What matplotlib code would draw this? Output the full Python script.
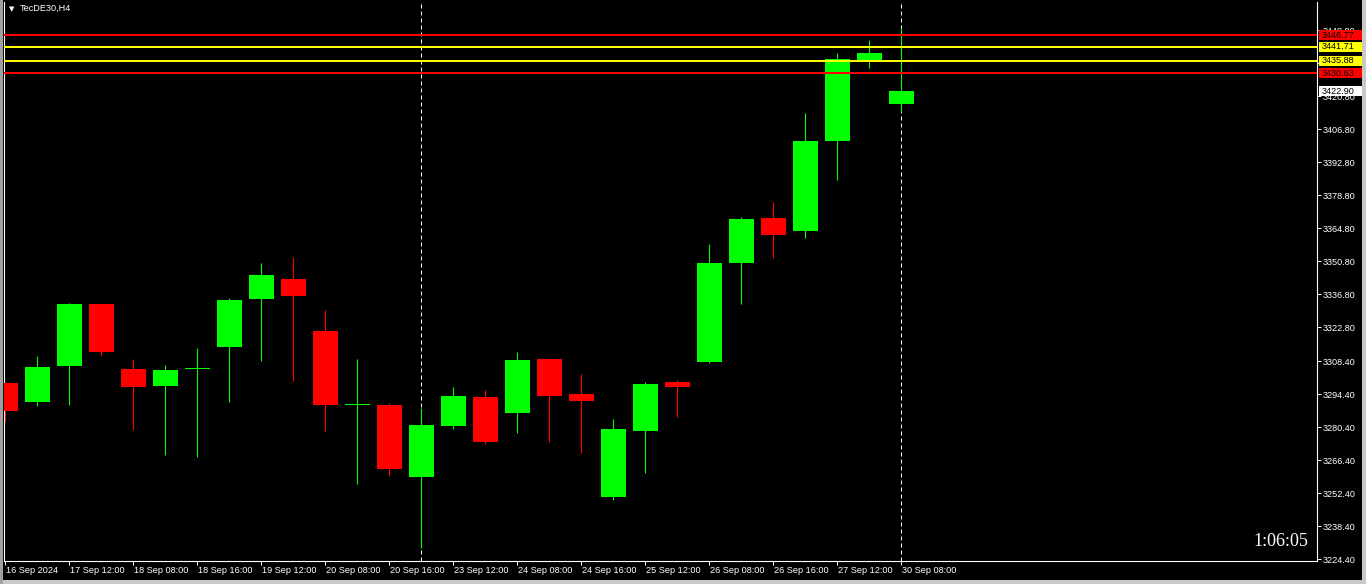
import matplotlib

matplotlib.use("Agg")
import matplotlib.pyplot as plt
import matplotlib.transforms as mtransforms
import numpy as np
from matplotlib.patches import Rectangle

SYMBOL = "TecDE30,H4"
COUNTDOWN = "1:06:05"

# H4 bars, 16 Sep 16:00 .. 30 Sep 08:00
opens = [3299.1, 3291.1, 3306.5, 3332.6, 3305.1, 3298.0, 3304.9, 3314.4, 3334.8, 3343.3,
         3321.2, 3289.8, 3289.8, 3259.3, 3281.0, 3293.2, 3286.5, 3309.3, 3294.4, 3250.9,
         3278.9, 3299.5, 3308.2, 3350.1, 3369.2, 3363.6, 3402.0, 3436.3, 3417.7]
highs = [3299.7, 3310.6, 3332.9, 3332.8, 3309.3, 3306.8, 3314.0, 3335.2, 3350.1, 3352.6,
         3330.1, 3309.3, 3290.5, 3288.4, 3297.4, 3296.1, 3312.3, 3309.6, 3302.9, 3283.8,
         3299.5, 3300.4, 3358.1, 3369.6, 3375.9, 3413.7, 3439.2, 3444.7, 3449.8]
lows = [3282.7, 3289.5, 3289.8, 3311.0, 3279.2, 3268.6, 3267.8, 3291.2, 3308.6, 3300.1,
        3278.9, 3256.4, 3259.8, 3229.0, 3279.6, 3273.3, 3278.0, 3274.2, 3269.5, 3249.6,
        3261.0, 3284.8, 3307.6, 3332.8, 3352.3, 3360.8, 3385.4, 3432.9, 3414.3]
closes = [3287.2, 3305.9, 3332.6, 3312.4, 3297.5, 3304.6, 3305.6, 3334.3, 3345.0, 3336.2,
          3289.8, 3290.4, 3262.6, 3281.3, 3293.6, 3274.2, 3308.9, 3293.7, 3291.6, 3279.6,
          3298.7, 3297.5, 3350.1, 3368.7, 3361.9, 3401.8, 3436.6, 3439.2, 3422.9]

time_tick_bars = [0, 2, 4, 6, 8, 10, 12, 14, 16, 18, 20, 22, 24, 26, 28]
time_tick_labels = ["16 Sep 2024", "17 Sep 12:00", "18 Sep 08:00", "18 Sep 16:00",
                    "19 Sep 12:00", "20 Sep 08:00", "20 Sep 16:00", "23 Sep 12:00",
                    "24 Sep 08:00", "24 Sep 16:00", "25 Sep 12:00", "26 Sep 08:00",
                    "26 Sep 16:00", "27 Sep 12:00", "30 Sep 08:00"]

price_ticks = [3448.80, 3434.80, 3420.80, 3406.80, 3392.80, 3378.80, 3364.80, 3350.80,
               3336.80, 3322.80, 3308.40, 3294.40, 3280.40, 3266.40, 3252.40, 3238.40,
               3224.40]
# 3434.80 sits fully behind the level tags
hidden_ticks = [3434.80]

level_values = [3446.77, 3441.71, 3435.88, 3430.63]
level_colors = ["#ff0000", "#ffff00", "#ffff00", "#ff0000"]
current_price = 3422.90
separator_bars = [13, 28]

BULL = "#00ff00"
BEAR = "#ff0000"
FONT = "Liberation Sans"

W, H = 1366, 584
fig = plt.figure(figsize=(W / 100, H / 100), dpi=100, facecolor="black")
ax = fig.add_axes([4 / W, 23 / H, 1313 / W, 559 / H])
ax.set_facecolor("black")

x = np.arange(len(opens))
o = np.array(opens)
c = np.array(closes)
colors = [BULL if cc >= oo else BEAR for oo, cc in zip(o, c)]

for sb in separator_bars:
    ax.axvline(sb, color="white", lw=0.72, dashes=(4, 3), zorder=1)

ax.vlines(x, lows, highs, colors=colors, lw=0.8, zorder=3)
ax.bar(x, np.abs(c - o), bottom=np.minimum(o, c), width=0.78, color=colors,
       linewidth=0, zorder=4)

for val, col in zip(level_values, level_colors):
    ax.axhline(val, color=col, lw=1.44, zorder=5)

ax.set_xlim(-0.04, 40.99)
ax.set_ylim(3223.6, 3460.8)

ax.spines["top"].set_visible(False)
for side in ("left", "right", "bottom"):
    ax.spines[side].set_color("white")
    ax.spines[side].set_linewidth(0.8)

ax.yaxis.tick_right()
ax.set_yticks(price_ticks)
ax.set_yticklabels(["" if p in hidden_ticks else f"{p:.2f}" for p in price_ticks])
ax.tick_params(axis="y", direction="out", length=2.9, width=0.7, pad=1.4,
               colors="white", labelsize=6.6)

ax.set_xticks(time_tick_bars)
ax.set_xticklabels(time_tick_labels)
ax.tick_params(axis="x", direction="out", length=2.9, width=0.7, pad=1.0,
               colors="white", labelsize=6.6)
shift = mtransforms.ScaledTranslation(1 / 100, 0, fig.dpi_scale_trans)
for lbl in ax.get_xticklabels():
    lbl.set_horizontalalignment("left")
    lbl.set_transform(lbl.get_transform() + shift)
    lbl.set_fontfamily(FONT)
for lbl in ax.get_yticklabels():
    lbl.set_fontfamily(FONT)

# price tags on the right scale
trans = mtransforms.blended_transform_factory(ax.transAxes, ax.transData)
box_h = 4.25
tags = list(zip(level_values, level_colors)) + [(current_price, "white")]
for val, col in tags:
    ax.add_patch(Rectangle((1.0012, val - box_h / 2), 0.0331, box_h, transform=trans,
                           facecolor=col, edgecolor="none", clip_on=False, zorder=10))
    ax.text(1.0035, val, f"{val:.2f}", transform=trans, ha="left", va="center",
            color="black", fontsize=6.6, family=FONT, zorder=11, clip_on=False)

# window chrome
fig.patches.append(Rectangle((1362 / W, 0), 4 / W, 1, transform=fig.transFigure,
                             facecolor="#c8c8c8", edgecolor="none"))
fig.patches.append(Rectangle((0, 0), 1, 4 / H, transform=fig.transFigure,
                             facecolor="#c8c8c8", edgecolor="none"))
fig.patches.append(Rectangle((0, 0), 3 / W, 1, transform=fig.transFigure,
                             facecolor="#a0a0a0", edgecolor="none"))

fig.text(11.5 / W, 1 - 9 / H, "\u25bc", color="white", fontsize=5,
         ha="center", va="center", family="DejaVu Sans")
fig.text(20 / W, 1 - 8 / H, SYMBOL, color="white", fontsize=6.6, family=FONT,
         ha="left", va="center")
fig.text(1308 / W, 1 - 542 / H, COUNTDOWN, color="white", fontsize=13,
         family="Liberation Serif", ha="right", va="center")

fig.savefig("out.png", dpi=100, facecolor=fig.get_facecolor())
